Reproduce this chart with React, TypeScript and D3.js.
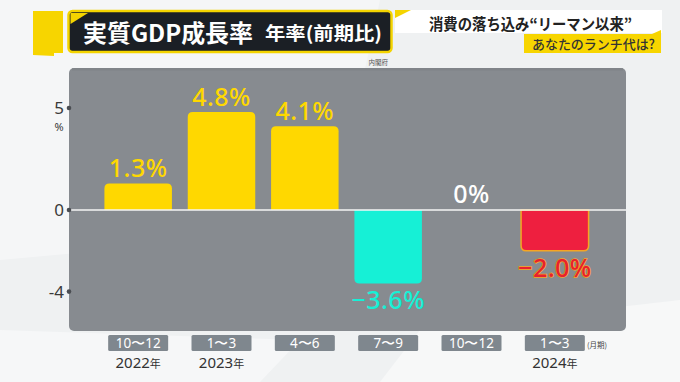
import React from "react";
import * as d3 from "d3";

const quarterLabels = ["10〜12", "1〜3", "4〜6", "7〜9", "10〜12", "1〜3"];
const yearLabels = ["2022", "2023", "", "", "", "2024"];
const values = [1.3, 4.8, 4.1, -3.6, 0, -2.0];
const valueLabels = ["1.3%", "4.8%", "4.1%", "−3.6%", "0%", "−2.0%"];
const barKinds = ["pos", "pos", "pos", "cyan", "zero", "red"];
const yTicks = [5, 0, -4];
const yTickLabels = ["5", "0", "-4"];

const W = 680;
const H = 382;
const JP = "'Noto Sans CJK JP', 'Noto Sans', sans-serif";
const NUM = "'Noto Sans', 'Open Sans', sans-serif";

function barPath(x: number, w: number, y0: number, y1: number, r: number) {
  const h = Math.abs(y1 - y0);
  const rr = Math.min(r, h / 2, w / 2);
  if (h === 0) return "";
  if (y1 < y0) {
    return `M${x},${y0} L${x},${y1 + rr} Q${x},${y1} ${x + rr},${y1} L${x + w - rr},${y1} Q${x + w},${y1} ${x + w},${y1 + rr} L${x + w},${y0} Z`;
  }
  return `M${x},${y0} L${x},${y1 - rr} Q${x},${y1} ${x + rr},${y1} L${x + w - rr},${y1} Q${x + w},${y1} ${x + w},${y1 - rr} L${x + w},${y0} Z`;
}

export default function App() {
  const idx = values.map((_, i) => String(i));
  const x = d3.scaleBand<string>().domain(idx).range([96.5, 596.5]).paddingInner(0.19).paddingOuter(0.095);
  const y = d3.scaleLinear().domain([0, 5]).range([210, 108]);
  const bw = x.bandwidth();
  const panel = { x0: 69, x1: 626, y0: 68, y1: 331 };

  const fills: Record<string, string> = { pos: "#ffd800", cyan: "#16f0d6", red: "#ee1f3f", zero: "none" };
  const textFills: Record<string, string> = { pos: "#ffd800", cyan: "#16f0d6", red: "#e8202e", zero: "#ffffff" };

  return (
    <svg width={W} height={H} style={{ position: "absolute", left: 0, top: 0 }}>
      <rect x={0} y={0} width={W} height={H} fill="#eff1f2" />
      <polygon points="0,0 380,0 330,230 0,260" fill="#f5f6f7" />
      <polygon points="420,330 680,300 680,382 380,382" fill="#f7f8f8" />
      <polygon points="0,330 300,340 260,382 0,382" fill="#f6f7f8" />

      {/* left yellow tab */}
      <polygon points="33,11 63,11 63,53 54,53 54,56 33,55" fill="#f7d500" />

      {/* title box */}
      <rect x={68.5} y={11} width={323} height={41} rx={4} fill="#1b1f25" stroke="#f4d400" strokeWidth={2.5} />
      <polygon points="70.5,13 88,13 70.5,24" fill="#f4d400" />
      <text x={83} y={41.5} fill="#ffffff" fontFamily={JP} fontWeight={700} fontSize={23.5} textLength={170} lengthAdjust="spacingAndGlyphs">
        実質GDP成長率
      </text>
      <text x={265} y={40} fill="#ffffff" fontFamily={JP} fontWeight={700} fontSize={18.5} textLength={117} lengthAdjust="spacingAndGlyphs">
        年率(前期比)
      </text>
      <text x={388} y={65} textAnchor="end" fill="#555" fontFamily={JP} fontSize={6.5}>
        内閣府
      </text>

      {/* right headline */}
      <polygon points="395,10 662,10 662,33 395,33" fill="#ffffff" />
      <polygon points="395,10 411,10 395,18" fill="#f4d400" />
      <text x={429} y={30} fill="#222" fontFamily={JP} fontWeight={700} fontSize={15.5} textLength={203} lengthAdjust="spacingAndGlyphs">
        消費の落ち込み“リーマン以来”
      </text>
      <polygon points="524,34 652,34 661,30 661,53 524,53" fill="#f7d500" />
      <text x={532} y={48.5} fill="#333" fontFamily={JP} fontWeight={500} fontSize={13} textLength={123} lengthAdjust="spacingAndGlyphs">
        あなたのランチ代は?
      </text>

      {/* panel */}
      <rect x={panel.x0} y={panel.y0} width={panel.x1 - panel.x0} height={panel.y1 - panel.y0} rx={5} fill="#878b90" />
      <rect x={panel.x0 + 3} y={panel.y0} width={panel.x1 - panel.x0 - 6} height={2.5} fill="#7c8086" opacity={0.6} />

      {/* bars */}
      {values.map((v, i) => {
        const kind = barKinds[i];
        if (kind === "zero") return null;
        const bx = x(String(i))!;
        return (
          <path
            key={"b" + i}
            d={barPath(bx, bw, y(0), y(v), 5)}
            fill={fills[kind]}
            stroke={kind === "red" ? "#f5a623" : "none"}
            strokeWidth={kind === "red" ? 1.5 : 0}
          />
        );
      })}

      {/* zero line */}
      <line x1={panel.x0} x2={panel.x1} y1={y(0)} y2={y(0)} stroke="#f4f4f4" strokeWidth={1.6} />

      {/* value labels */}
      {values.map((v, i) => {
        const kind = barKinds[i];
        const cx = x(String(i))! + bw / 2;
        let ty = 0;
        if (kind === "zero") ty = y(0) - 7;
        else if (v > 0) ty = y(v) - 6;
        else ty = y(v) + 26;
        return (
          <text
            key={"v" + i}
            x={cx}
            y={ty}
            textAnchor="middle"
            fill={textFills[kind]}
            stroke={kind === "red" ? "#f5a623" : "none"}
            strokeWidth={kind === "red" ? 1.4 : 0}
            paintOrder="stroke"
            fontFamily={NUM}
            fontWeight={500}
            fontSize={25}
            letterSpacing={0.5}
          >
            {valueLabels[i]}
          </text>
        );
      })}

      {/* y axis ticks */}
      {yTicks.map((t, i) => (
        <g key={"t" + i}>
          <circle cx={panel.x0} cy={y(t)} r={2.3} fill="#4a4d52" />
          <text x={64} y={y(t) + 6} textAnchor="end" fill="#3a3a3a" fontFamily={NUM} fontSize={17}>
            {yTickLabels[i]}
          </text>
        </g>
      ))}
      <text x={59} y={131} textAnchor="middle" fill="#3a3a3a" fontFamily={NUM} fontSize={11}>
        %
      </text>

      {/* category labels */}
      {quarterLabels.map((q, i) => {
        const cx = x(String(i))! + bw / 2;
        return (
          <g key={"c" + i}>
            <rect x={cx - 30} y={335} width={60} height={16} rx={1.5} fill="#7f878e" />
            <text x={cx} y={348} textAnchor="middle" fill="#ffffff" fontFamily={NUM} fontSize={13.5}>
              {q}
            </text>
            {yearLabels[i] && (
              <text x={cx} y={368} textAnchor="middle" fill="#333" fontFamily={NUM} fontSize={15}>
                {yearLabels[i]}
                <tspan fontFamily={JP} fontSize={11}>年</tspan>
              </text>
            )}
          </g>
        );
      })}
      <text x={587} y={348} fill="#444" fontFamily={JP} fontSize={7.5}>
        (月期)
      </text>
    </svg>
  );
}
